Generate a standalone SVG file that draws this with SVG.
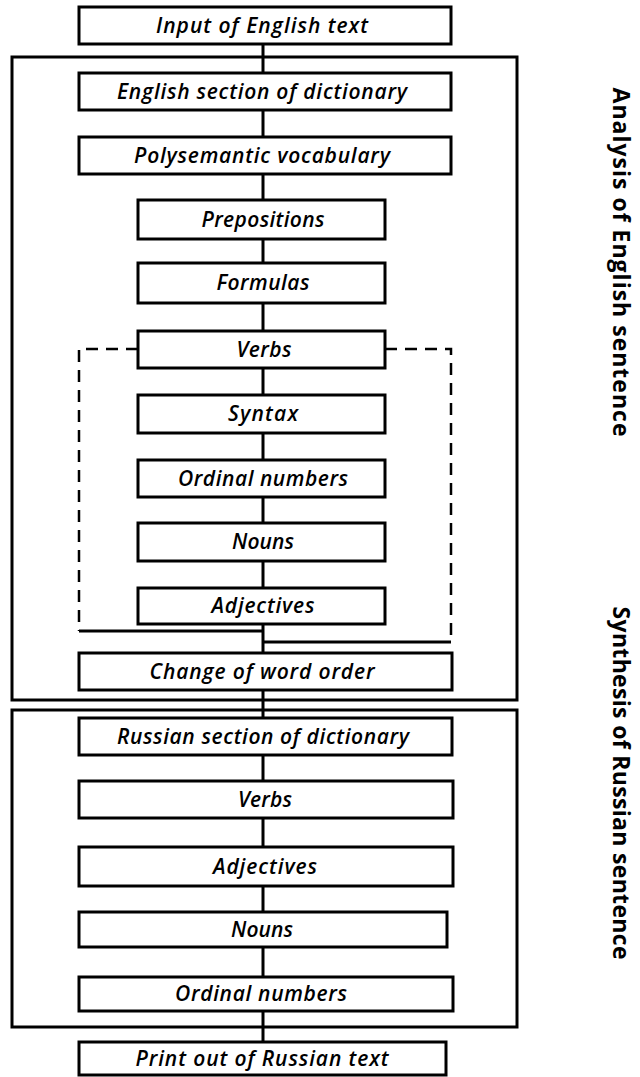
<svg xmlns="http://www.w3.org/2000/svg" width="640" height="1077" viewBox="0 0 640 1077">
<style>
.box{fill:#fff;stroke:#000;stroke-width:3}
.outer{fill:none;stroke:#000;stroke-width:3}
.dash{fill:none;stroke:#000;stroke-width:2.5;stroke-dasharray:12 8}
.conn{fill:none;stroke:#000;stroke-width:3}
.lbl{font-family:"Open Sans","DejaVu Sans",sans-serif;font-style:italic;font-weight:600;font-size:21px;text-anchor:middle;dominant-baseline:central;fill:#000}
.side{font-family:"Open Sans","DejaVu Sans",sans-serif;font-weight:700;font-size:23px;text-anchor:middle;dominant-baseline:central;fill:#000}
</style>
<rect width="640" height="1077" fill="#fff"/>
<g id="groups">
<rect id="analysis" class="outer" x="12" y="57" width="505" height="643"/>
<rect id="synthesis" class="outer" x="12" y="710" width="505" height="317"/>
<path id="dashed-group" class="dash" d="M138,349 H79 V631 M385,349 H451 V642"/>
<path class="conn" d="M79,631 H263 M263,642 H451"/>
</g>
<g id="connectors">
<path class="conn" d="M263,44 V73 M263,110 V137 M263,174 V200 M263,239 V263 M263,303 V331 M263,368 V395 M263,433 V460 M263,497 V523 M263,561 V588 M263,624 V653 M263,690 V718 M263,755 V781 M263,818 V847 M263,886 V912 M263,947 V977 M263,1011 V1042"/>
</g>
<g id="n1"><rect class="box" x="79" y="7" width="372" height="37"/><text class="lbl" x="262" y="25" textLength="212">Input of English text</text></g>
<g id="n2"><rect class="box" x="79" y="73" width="372" height="37"/><text class="lbl" x="262" y="91" textLength="290">English section of dictionary</text></g>
<g id="n3"><rect class="box" x="79" y="137" width="372" height="37"/><text class="lbl" x="262" y="155" textLength="256">Polysemantic vocabulary</text></g>
<g id="n4"><rect class="box" x="138" y="200" width="247" height="39"/><text class="lbl" x="263" y="219" textLength="123">Prepositions</text></g>
<g id="n5"><rect class="box" x="138" y="263" width="247" height="40"/><text class="lbl" x="263" y="282" textLength="93">Formulas</text></g>
<g id="n6"><rect class="box" x="138" y="331" width="247" height="37"/><text class="lbl" x="264" y="349" textLength="55">Verbs</text></g>
<g id="n7"><rect class="box" x="138" y="395" width="247" height="38"/><text class="lbl" x="263" y="413" textLength="70">Syntax</text></g>
<g id="n8"><rect class="box" x="138" y="460" width="247" height="37"/><text class="lbl" x="263" y="478" textLength="170">Ordinal numbers</text></g>
<g id="n9"><rect class="box" x="138" y="523" width="247" height="38"/><text class="lbl" x="263" y="541" textLength="62">Nouns</text></g>
<g id="n10"><rect class="box" x="138" y="588" width="247" height="36"/><text class="lbl" x="263" y="605" textLength="103">Adjectives</text></g>
<g id="n11"><rect class="box" x="79" y="653" width="373" height="37"/><text class="lbl" x="262" y="671" textLength="225">Change of word order</text></g>
<g id="n12"><rect class="box" x="79" y="718" width="373" height="37"/><text class="lbl" x="263" y="736" textLength="292">Russian section of dictionary</text></g>
<g id="n13"><rect class="box" x="79" y="781" width="374" height="37"/><text class="lbl" x="265" y="799" textLength="54">Verbs</text></g>
<g id="n14"><rect class="box" x="79" y="847" width="374" height="39"/><text class="lbl" x="265" y="866" textLength="104">Adjectives</text></g>
<g id="n15"><rect class="box" x="79" y="912" width="368" height="35"/><text class="lbl" x="262" y="929" textLength="62">Nouns</text></g>
<g id="n16"><rect class="box" x="79" y="977" width="374" height="34"/><text class="lbl" x="261" y="993" textLength="172">Ordinal numbers</text></g>
<g id="n17"><rect class="box" x="79" y="1042" width="367" height="33"/><text class="lbl" x="262" y="1058" textLength="253">Print out of Russian text</text></g>
<text class="side" transform="translate(622,262) rotate(90)" textLength="349">Analysis of English sentence</text>
<text class="side" transform="translate(622,783) rotate(90)" textLength="353">Synthesis of Russian sentence</text>
</svg>
